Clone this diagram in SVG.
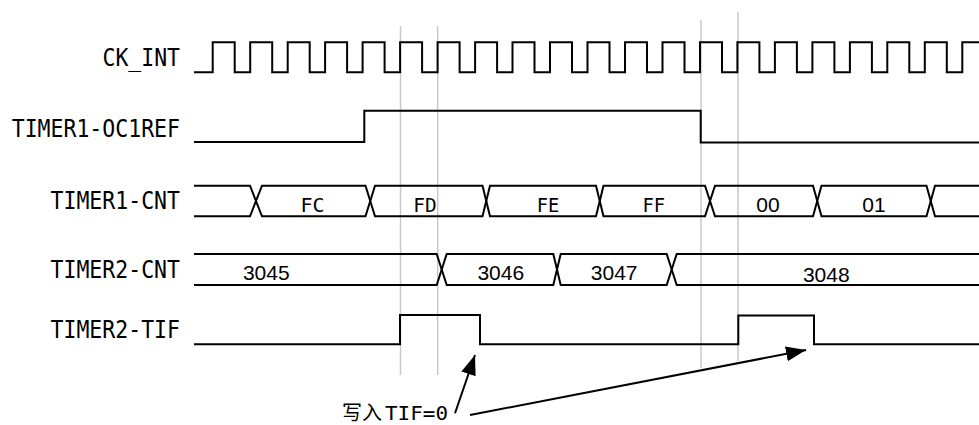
<svg xmlns="http://www.w3.org/2000/svg" width="979" height="425" viewBox="0 0 979 425">
<style>
.lbl{font-family:"DejaVu Sans Mono","Liberation Mono",monospace;font-size:24.5px;fill:#000}
.val{font-family:"Liberation Sans",Arial,sans-serif;font-size:21px;fill:#000;text-anchor:middle}
.valm{font-family:"DejaVu Sans Mono","Liberation Mono",monospace;font-size:20px;fill:#000}
.sig{fill:none;stroke:#000;stroke-width:2}
.grid{stroke:#c8c8c8;stroke-width:1.5}
.arr{stroke:#000;stroke-width:2;fill:none}
</style>
<defs>
<marker id="ah" markerUnits="userSpaceOnUse" markerWidth="22" markerHeight="16" refX="20" refY="7.5" orient="auto">
<path d="M0,0 L20,7.5 L0,15 z" fill="#000"/>
</marker>
</defs>
<rect width="979" height="425" fill="#fff"/>
<g id="gridlines">
<line class="grid" x1="400.5" y1="26" x2="400.5" y2="375"/>
<line class="grid" x1="437.7" y1="26" x2="437.7" y2="375"/>
<line class="grid" x1="701" y1="20" x2="701" y2="368"/>
<line class="grid" x1="738" y1="12" x2="738" y2="361"/>
</g>
<g id="ck_int">
<text class="lbl" x="102.5" y="66" textLength="77.5" lengthAdjust="spacingAndGlyphs">CK_INT</text>
<path class="sig" d="M194,72.3 H212.7 V42.3 H234.7 V72.3 H250.2 V42.3 H272.2 V72.3 H287.7 V42.3 H309.7 V72.3 H325.1 V42.3 H347.1 V72.3 H362.6 V42.3 H384.6 V72.3 H400.1 V42.3 H422.1 V72.3 H437.6 V42.3 H459.6 V72.3 H475.1 V42.3 H497.1 V72.3 H512.5 V42.3 H534.5 V72.3 H550 V42.3 H572 V72.3 H587.5 V42.3 H609.5 V72.3 H625 V42.3 H647 V72.3 H662.5 V42.3 H684.5 V72.3 H700 V42.3 H722 V72.3 H737.4 V42.3 H759.4 V72.3 H774.9 V42.3 H796.9 V72.3 H812.4 V42.3 H834.4 V72.3 H849.9 V42.3 H871.9 V72.3 H887.3 V42.3 H909.3 V72.3 H924.8 V42.3 H946.8 V72.3 H962.3 V42.3 H979"/>
</g>
<g id="oc1ref">
<text class="lbl" x="11.7" y="136.7" textLength="168.3" lengthAdjust="spacingAndGlyphs">TIMER1-OC1REF</text>
<path class="sig" d="M194,142 H364.3 V110.7 H700.7 V142.5 H979"/>
</g>
<g id="timer1_cnt">
<text class="lbl" x="50.5" y="209.3" textLength="129.5" lengthAdjust="spacingAndGlyphs">TIMER1-CNT</text>
<path class="sig" d="M194,185.7 H250 L262,216.3 H365.5 L375,185.7 H482.5 L490,216.3 H596 L603.5,185.7 H705 L715,216.3 H813 L821.5,185.7 H926.5 L935,216.3 H979"/>
<path class="sig" d="M194,216.3 H250 L262,185.7 H365.5 L375,216.3 H482.5 L490,185.7 H596 L603.5,216.3 H705 L715,185.7 H813 L821.5,216.3 H926.5 L935,185.7 H979"/>
<text class="valm" x="300.5" y="211.7" textLength="24" lengthAdjust="spacingAndGlyphs">FC</text>
<text class="valm" x="413.3" y="211.7" textLength="23.4" lengthAdjust="spacingAndGlyphs">FD</text>
<text class="valm" x="536.7" y="211.7" textLength="22.6" lengthAdjust="spacingAndGlyphs">FE</text>
<text class="valm" x="642.5" y="211.7" textLength="22.6" lengthAdjust="spacingAndGlyphs">FF</text>
<text class="val" x="768" y="211.7">00</text>
<text class="val" x="874" y="211.7">01</text>
</g>
<g id="timer2_cnt">
<text class="lbl" x="50.5" y="277.7" textLength="129.5" lengthAdjust="spacingAndGlyphs">TIMER2-CNT</text>
<path class="sig" d="M194,254 H436.7 L446.7,285 H553.3 L560.7,254 H666.7 L676.7,285 H979"/>
<path class="sig" d="M194,285 H436.7 L446.7,254 H553.3 L560.7,285 H666.7 L676.7,254 H979"/>
<text class="val" x="266.3" y="280">3045</text>
<text class="val" x="500.8" y="280">3046</text>
<text class="val" x="614.2" y="280">3047</text>
<text class="val" x="826.3" y="281.7">3048</text>
</g>
<g id="timer2_tif">
<text class="lbl" x="50.5" y="338.3" textLength="129.5" lengthAdjust="spacingAndGlyphs">TIMER2-TIF</text>
<path class="sig" d="M194,344.3 H400 V315 H480 V344.3 H738.3 V315.5 H814 V344.3 H979"/>
</g>
<g id="note">
<text x="342" y="420" style="font-family:'Noto Sans CJK SC','DejaVu Sans',sans-serif;font-size:20px;fill:#000">写入<tspan x="385" style="font-family:'DejaVu Sans Mono',monospace;font-size:20px" textLength="63" lengthAdjust="spacingAndGlyphs">TIF=0</tspan></text>
</g>
<g id="connectors">
<line class="arr" x1="455" y1="413.3" x2="475" y2="355" marker-end="url(#ah)"/>
<line class="arr" x1="470" y1="415" x2="806" y2="350" marker-end="url(#ah)"/>
</g>
</svg>
